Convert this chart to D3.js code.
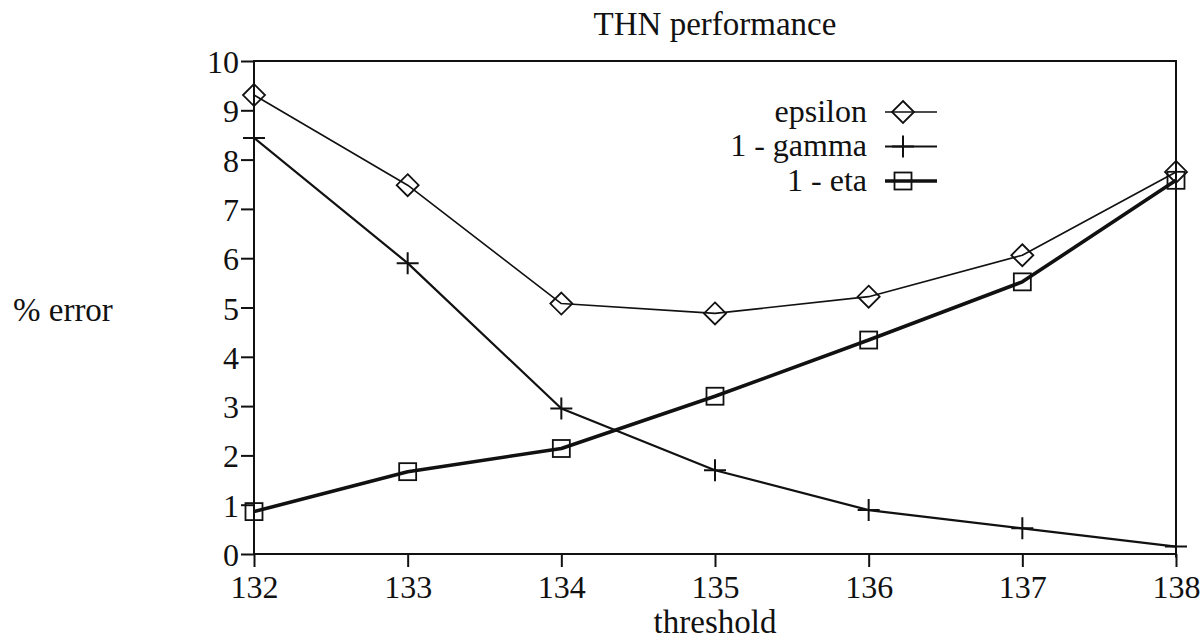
<!DOCTYPE html>
<html>
<head>
<meta charset="utf-8">
<script src="https://cdn.jsdelivr.net/npm/d3@7"></script>
<style>
  body { margin: 0; background: #fff; }
  text { fill: #111; }
</style>
</head>
<body>
<div id="chart"></div>
<script>
const thresholds = [132, 133, 134, 135, 136, 137, 138];
const epsilon = [9.31, 7.48, 5.08, 4.88, 5.22, 6.06, 7.75];
const oneMinusGamma = [8.44, 5.9, 2.95, 1.7, 0.89, 0.52, 0.15];
const oneMinusEta = [0.86, 1.67, 2.14, 3.2, 4.34, 5.52, 7.58];
const yTicks = [0, 1, 2, 3, 4, 5, 6, 7, 8, 9, 10];
const seriesNames = ["epsilon", "1 - gamma", "1 - eta"];

const width = 1204;
const height = 643;
const margin = { top: 61, right: 28, bottom: 89, left: 254 };
const serif =
  '"Liberation Serif", "DejaVu Serif", "Noto Serif", Tinos, "Times New Roman", FreeSerif, "Nimbus Roman", serif';

const svg = d3
  .select("#chart")
  .append("svg")
  .attr("width", width)
  .attr("height", height)
  .attr("font-family", serif);

const x = d3
  .scaleLinear()
  .domain([132, 138])
  .range([margin.left, width - margin.right]);

const y = d3
  .scaleLinear()
  .domain([0, 10])
  .range([height - margin.bottom, margin.top]);

// cadre
svg
  .append("rect")
  .attr("x", x(132))
  .attr("y", y(10))
  .attr("width", x(138) - x(132))
  .attr("height", y(0) - y(10))
  .attr("fill", "none")
  .attr("stroke", "#111")
  .attr("stroke-width", 2);

const xAxis = svg
  .append("g")
  .attr("transform", "translate(0," + y(0) + ")")
  .call(d3.axisBottom(x).tickValues(thresholds).tickFormat(d3.format("d")).tickSize(13).tickPadding(6));

const yAxis = svg
  .append("g")
  .attr("transform", "translate(" + x(132) + ",0)")
  .call(d3.axisLeft(y).tickValues(yTicks).tickSize(13).tickPadding(2));

[xAxis, yAxis].forEach((g) => {
  g.attr("font-family", serif);
  g.select(".domain").remove();
  g.selectAll(".tick line").attr("stroke", "#111").attr("stroke-width", 2);
  g.selectAll(".tick text")
    .attr("font-family", serif)
    .attr("font-size", 32)
    .attr("fill", "#111");
});
xAxis.selectAll(".tick text").attr("dy", "0.78em");
yAxis.selectAll(".tick text").attr("dy", "0.36em");

svg
  .append("text")
  .attr("x", 715)
  .attr("y", 35)
  .attr("text-anchor", "middle")
  .attr("font-size", 33)
  .text("THN performance");

svg
  .append("text")
  .attr("x", 715)
  .attr("y", 633)
  .attr("text-anchor", "middle")
  .attr("font-size", 33)
  .text("threshold");

svg
  .append("text")
  .attr("x", 13)
  .attr("y", 321)
  .attr("font-size", 33)
  .text("% error");

const line = d3
  .line()
  .x((d, i) => x(thresholds[i]))
  .y((d) => y(d));

const series = [
  { name: seriesNames[0], values: epsilon, width: 1.6, marker: "diamond" },
  { name: seriesNames[1], values: oneMinusGamma, width: 2.2, marker: "plus" },
  { name: seriesNames[2], values: oneMinusEta, width: 3.6, marker: "square" },
];

const drawMarker = (g, type) => {
  if (type === "diamond") {
    g.append("path")
      .attr("d", "M0,-11L11,0L0,11L-11,0Z")
      .attr("fill", "none")
      .attr("stroke", "#111")
      .attr("stroke-width", 1.8);
  } else if (type === "square") {
    g.append("rect")
      .attr("x", -8.5)
      .attr("y", -8.5)
      .attr("width", 17)
      .attr("height", 17)
      .attr("fill", "none")
      .attr("stroke", "#111")
      .attr("stroke-width", 1.8);
  } else {
    g.append("path")
      .attr("d", "M-11,0H11M0,-11V11")
      .attr("fill", "none")
      .attr("stroke", "#111")
      .attr("stroke-width", 2);
  }
};

series.forEach((s) => {
  svg
    .append("path")
    .datum(s.values)
    .attr("fill", "none")
    .attr("stroke", "#111")
    .attr("stroke-width", s.width)
    .attr("stroke-linejoin", "round")
    .attr("d", line);
});

series.forEach((s) => {
  svg
    .append("g")
    .selectAll("g")
    .data(s.values)
    .enter()
    .append("g")
    .attr("transform", (d, i) => "translate(" + x(thresholds[i]) + "," + y(d) + ")")
    .each(function () {
      drawMarker(d3.select(this), s.marker);
    });
});

// légende
const legend = svg.append("g").attr("transform", "translate(0,112)");
series.forEach((s, i) => {
  const row = legend.append("g").attr("transform", "translate(0," + i * 34.5 + ")");
  row
    .append("text")
    .attr("x", 867)
    .attr("y", 0)
    .attr("dy", "0.3em")
    .attr("text-anchor", "end")
    .attr("font-size", 32)
    .text(s.name);
  row
    .append("line")
    .attr("x1", 885)
    .attr("x2", 937)
    .attr("stroke", "#111")
    .attr("stroke-width", s.width);
  const m = row.append("g").attr("transform", "translate(903,0)");
  drawMarker(m, s.marker);
});
</script>
</body>
</html>
